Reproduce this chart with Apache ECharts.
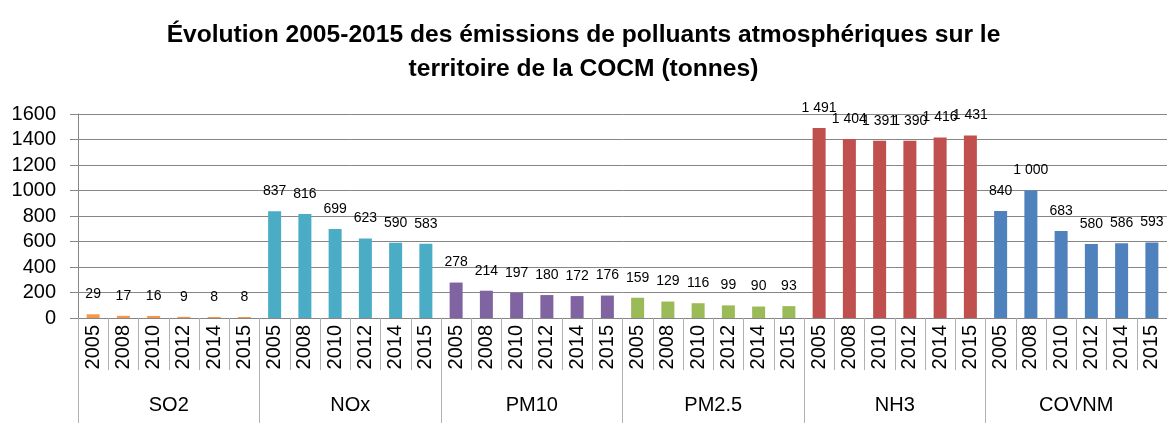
<!DOCTYPE html>
<html>
<head>
<meta charset="utf-8">
<style>
  html, body { margin: 0; padding: 0; background: #fff; }
  #chart { width: 1167px; height: 423px; }
</style>
<script src="https://cdn.jsdelivr.net/npm/echarts@6/dist/echarts.min.js"></script>
</head>
<body>
<div id="chart"></div>
<script>
// Pollutant groups and the years measured within each group
const pollutants = ['SO2', 'NOx', 'PM10', 'PM2.5', 'NH3', 'COVNM'];
const years = ['2005', '2008', '2010', '2012', '2014', '2015'];

// Emissions (tonnes) per pollutant, in the order of `years`
const so2   = [29, 17, 16, 9, 8, 8];
const nox   = [837, 816, 699, 623, 590, 583];
const pm10  = [278, 214, 197, 180, 172, 176];
const pm25  = [159, 129, 116, 99, 90, 93];
const nh3   = [1491, 1404, 1391, 1390, 1416, 1431];
const covnm = [840, 1000, 683, 580, 586, 593];

const yTicks = [0, 200, 400, 600, 800, 1000, 1200, 1400, 1600];

const groupValues = [so2, nox, pm10, pm25, nh3, covnm];
const groupColors = ['#F79646', '#4BACC6', '#8064A2', '#9BBB59', '#C0504D', '#4F81BD'];

// Flatten into one category axis: each pollutant gets its run of years
const yearCategories = [];
const barData = [];
groupValues.forEach((vals, g) => {
  vals.forEach((v, i) => {
    yearCategories.push(years[i]);
    barData.push({ value: v, itemStyle: { color: groupColors[g] } });
  });
});

// French-style thousands separator: 1491 -> "1 491"
function fmt(v) {
  return String(v).replace(/\B(?=(\d{3})+(?!\d))/g, ' ');
}

const FONT = 'Liberation Sans';
const chart = echarts.init(document.getElementById('chart'), null, { renderer: 'canvas' });

chart.setOption({
  animation: false,
  textStyle: { fontFamily: FONT },
  title: {
    text: 'Évolution 2005-2015 des émissions de polluants atmosphériques sur le\nterritoire de la COCM (tonnes)',
    left: 'center',
    top: 13,
    textStyle: { fontFamily: FONT, fontWeight: 'bold', fontSize: 24.6, lineHeight: 34, color: '#000' }
  },
  grid: { left: 78, top: 114, width: 1091, height: 204, containLabel: false },
  xAxis: [
    {
      type: 'category',
      data: yearCategories,
      position: 'bottom',
      axisLine: { show: true, lineStyle: { color: '#868686', width: 1 } },
      axisTick: { show: true, interval: 0, length: 52, lineStyle: { color: '#b0b0b0', width: 1 } },
      axisLabel: {
        interval: 0, rotate: 90, margin: 7,
        fontFamily: FONT, fontSize: 20, color: '#000'
      }
    },
    {
      type: 'category',
      data: pollutants,
      position: 'bottom',
      axisLine: { show: false },
      axisTick: { show: true, interval: 0, length: 110, lineStyle: { color: '#b0b0b0', width: 1 } },
      axisLabel: {
        interval: 0, margin: 77,
        fontFamily: FONT, fontSize: 20, color: '#000'
      }
    }
  ],
  yAxis: {
    type: 'value',
    min: yTicks[0],
    max: yTicks[yTicks.length - 1],
    interval: 200,
    axisLine: { show: true, lineStyle: { color: '#868686', width: 1 } },
    axisTick: { show: true, length: 8, lineStyle: { color: '#868686' } },
    splitLine: { show: true, lineStyle: { color: '#868686', width: 1 } },
    axisLabel: {
      margin: 22, fontFamily: FONT, fontSize: 20, color: '#000',
      formatter: v => String(v)
    }
  },
  series: [
    {
      type: 'bar',
      xAxisIndex: 0,
      data: barData,
      barWidth: 13,
      label: {
        show: true,
        position: 'top',
        distance: 13,
        fontFamily: FONT,
        fontSize: 14,
        color: '#000',
        formatter: p => fmt(p.value)
      }
    }
  ]
});
</script>
</body>
</html>
